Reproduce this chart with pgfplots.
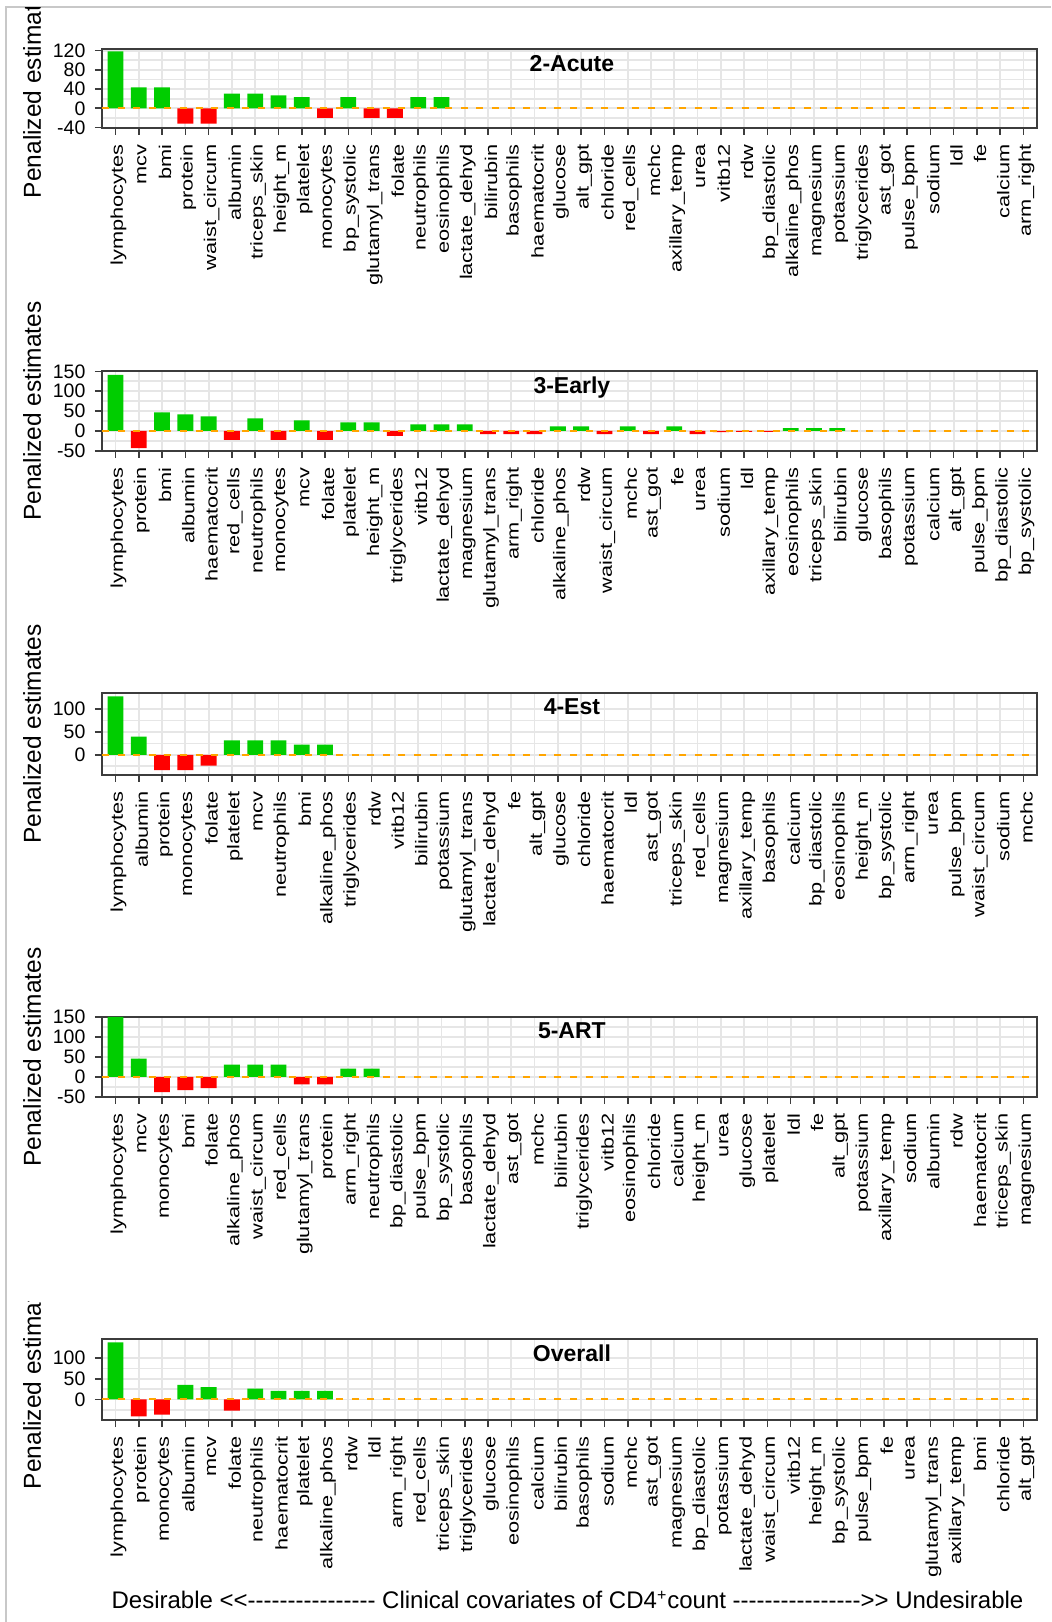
\documentclass[border=0pt]{standalone}
\usepackage{fontspec}
\setmainfont{Liberation Sans}
\newfontfamily\labelfont[FakeStretch=1.28]{Liberation Sans}
\usepackage{pgfplots}
\pgfplotsset{compat=1.18}
\definecolor{bargreen}{HTML}{00CD00}
\definecolor{barred}{HTML}{FF0000}
\definecolor{zeroline}{HTML}{FFA500}
\definecolor{gridgray}{HTML}{E6E6E6}
\definecolor{boxgray}{HTML}{3C3C3C}
\definecolor{framegray}{HTML}{C8C8C8}
\newcommand\dsh{-\kern0pt}
\newcommand\dashes{\dsh\dsh\dsh\dsh\dsh\dsh\dsh\dsh\dsh\dsh\dsh\dsh\dsh\dsh\dsh\dsh}
\pgfplotsset{
  panel/.style={
    scale only axis, width=467.5pt,
    anchor=north west,
    xmin=-0.58, xmax=39.58,
    xtick={0,...,39},
    tick pos=left, tick align=outside,
    major tick length=3.5pt, minor tick length=0pt,
    tick style={boxgray, line width=0.8pt},
    axis line style={boxgray, line width=1pt},
    grid=both,
    major grid style={gridgray, line width=0.9pt},
    minor grid style={gridgray, line width=0.9pt},
    minor y tick num=1,
    xticklabel style={xshift=1.5pt, yshift=-1.2pt, rotate=90, anchor=east, font=\labelfont\fontsize{8.5}{9}\selectfont},
    yticklabel style={xshift=-1.25pt, font=\fontsize{9.75}{10}\selectfont},
    every axis title/.style={at={(0.5,1)}, anchor=north, xshift=1.2pt, yshift=-1.8pt, inner sep=1pt, font=\bfseries\fontsize{11.5}{12}\selectfont},
  },
  gbar/.style={fill=bargreen, draw=none, ybar, bar width=0.68, bar shift=0pt},
  rbar/.style={fill=barred, draw=none, ybar, bar width=0.68, bar shift=0pt},
  zline/.style={zeroline, line width=1pt, dash pattern=on 3.5pt off 4.3pt},
}
\begin{document}
\begin{tikzpicture}
\path[use as bounding box] (0,0) rectangle (525.5pt,811pt);
\fill[white] (0,0) rectangle (525.5pt,811pt);
\draw[framegray, line width=1pt] (3pt,0) -- (3pt,807.5pt) -- (525.5pt,807.5pt);

% ---------- Panel 1: 2-Acute ----------
\begin{axis}[panel, at={(51pt,786.5pt)}, height=39.5pt,
  ymin=-41, ymax=123.5, ytick={-40,0,40,80,120}, yticklabels={-40,0,40,80,120},
  title={2-Acute},
  xticklabels={lymphocytes,mcv,bmi,protein,waist\_circum,albumin,triceps\_skin,height\_m,platelet,monocytes,bp\_systolic,glutamyl\_trans,folate,neutrophils,eosinophils,lactate\_dehyd,bilirubin,basophils,haematocrit,glucose,alt\_gpt,chloride,red\_cells,mchc,axillary\_temp,urea,vitb12,rdw,bp\_diastolic,alkaline\_phos,magnesium,potassium,triglycerides,ast\_got,pulse\_bpm,sodium,ldl,fe,calcium,arm\_right}]
\addplot[gbar] coordinates {(0,118.5) (1,43.5) (2,43.5) (5,30.5) (6,30.5) (7,27) (8,23) (10,23) (13,23) (14,23)};
\addplot[rbar] coordinates {(3,-32) (4,-32) (9,-20) (11,-20) (12,-20)};
\addplot[zline] coordinates {(-0.58,0) (39.58,0)};
\end{axis}
\begin{scope}
\clip (0,0) rectangle (525.5pt,807pt);
\node[rotate=90, font=\fontsize{12.25}{13}\selectfont] at (16pt,766.75pt) {Penalized estimates};
\end{scope}

% ---------- Panel 2: 3-Early ----------
\begin{axis}[panel, at={(51pt,625.5pt)}, height=40pt,
  ymin=-50.5, ymax=151, ytick={-50,0,50,100,150}, yticklabels={-50,0,50,100,150},
  title={3-Early},
  xticklabels={lymphocytes,protein,bmi,albumin,haematocrit,red\_cells,neutrophils,monocytes,mcv,folate,platelet,height\_m,triglycerides,vitb12,lactate\_dehyd,magnesium,glutamyl\_trans,arm\_right,chloride,alkaline\_phos,rdw,waist\_circum,mchc,ast\_got,fe,urea,sodium,ldl,axillary\_temp,eosinophils,triceps\_skin,bilirubin,glucose,basophils,potassium,calcium,alt\_gpt,pulse\_bpm,bp\_diastolic,bp\_systolic}]
\addplot[gbar] coordinates {(0,141.5) (2,46.5) (3,41.5) (4,36.5) (6,31.5) (8,26.5) (10,21.5) (11,21.5) (13,16.5) (14,16.5) (15,16.5) (19,11.5) (20,11.5) (22,11.5) (24,11.5) (29,7) (30,7) (31,7)};
\addplot[rbar] coordinates {(1,-43) (5,-22.5) (7,-22.5) (9,-22.5) (12,-12.5) (16,-8) (17,-8) (18,-8) (21,-8) (23,-8) (25,-8) (26,-3) (27,-2.5) (28,-2.5)};
\addplot[zline] coordinates {(-0.58,0) (39.58,0)};
\end{axis}
\node[rotate=90, font=\fontsize{12.25}{13}\selectfont] at (16pt,605.5pt) {Penalized estimates};

% ---------- Panel 3: 4-Est ----------
\begin{axis}[panel, at={(51pt,464.5pt)}, height=41pt,
  ymin=-43.8, ymax=135, ytick={-50,0,50,100}, yticklabels={-50,0,50,100},
  title={4-Est},
  xticklabels={lymphocytes,albumin,protein,monocytes,folate,platelet,mcv,neutrophils,bmi,alkaline\_phos,triglycerides,rdw,vitb12,bilirubin,potassium,glutamyl\_trans,lactate\_dehyd,fe,alt\_gpt,glucose,chloride,haematocrit,ldl,ast\_got,triceps\_skin,red\_cells,magnesium,axillary\_temp,basophils,calcium,bp\_diastolic,eosinophils,height\_m,bp\_systolic,arm\_right,urea,pulse\_bpm,waist\_circum,sodium,mchc}]
\addplot[gbar] coordinates {(0,127.5) (1,40) (5,31.5) (6,31.5) (7,31.5) (8,22.5) (9,22.5)};
\addplot[rbar] coordinates {(2,-33) (3,-33) (4,-23.5)};
\addplot[zline] coordinates {(-0.58,0) (39.58,0)};
\end{axis}
\node[rotate=90, font=\fontsize{12.25}{13}\selectfont] at (16pt,444pt) {Penalized estimates};

% ---------- Panel 4: 5-ART ----------
\begin{axis}[panel, at={(51pt,302.5pt)}, height=40pt,
  ymin=-50.5, ymax=150.5, ytick={-50,0,50,100,150}, yticklabels={-50,0,50,100,150},
  title={5-ART},
  xticklabels={lymphocytes,mcv,monocytes,bmi,folate,alkaline\_phos,waist\_circum,red\_cells,glutamyl\_trans,protein,arm\_right,neutrophils,bp\_diastolic,pulse\_bpm,bp\_systolic,basophils,lactate\_dehyd,ast\_got,mchc,bilirubin,triglycerides,vitb12,eosinophils,chloride,calcium,height\_m,urea,glucose,platelet,ldl,fe,alt\_gpt,potassium,axillary\_temp,sodium,albumin,rdw,haematocrit,triceps\_skin,magnesium}]
\addplot[gbar] coordinates {(0,151) (1,46) (5,31) (6,31) (7,31) (10,21) (11,21)};
\addplot[rbar] coordinates {(2,-38.5) (3,-33.5) (4,-28.5) (8,-18.5) (9,-18.5)};
\addplot[zline] coordinates {(-0.58,0) (39.58,0)};
\end{axis}
\node[rotate=90, font=\fontsize{12.25}{13}\selectfont] at (16pt,282.5pt) {Penalized estimates};

% ---------- Panel 5: Overall ----------
\begin{axis}[panel, at={(51pt,141.5pt)}, height=40.5pt,
  ymin=-49.5, ymax=146, ytick={-50,0,50,100}, yticklabels={-50,0,50,100},
  title={Overall},
  xticklabels={lymphocytes,protein,monocytes,albumin,mcv,folate,neutrophils,haematocrit,platelet,alkaline\_phos,rdw,ldl,arm\_right,red\_cells,triceps\_skin,triglycerides,glucose,eosinophils,calcium,bilirubin,basophils,sodium,mchc,ast\_got,magnesium,bp\_diastolic,potassium,lactate\_dehyd,waist\_circum,vitb12,height\_m,bp\_systolic,pulse\_bpm,fe,urea,glutamyl\_trans,axillary\_temp,bmi,chloride,alt\_gpt}]
\addplot[gbar] coordinates {(0,138) (3,35) (4,30) (6,26) (7,21) (8,21) (9,21)};
\addplot[rbar] coordinates {(1,-40.5) (2,-36.5) (5,-27)};
\addplot[zline] coordinates {(-0.58,0) (39.58,0)};
\end{axis}
\begin{scope}
\clip (0,0) rectangle (525.5pt,160pt);
\node[rotate=90, font=\fontsize{12.25}{13}\selectfont] at (16pt,121.25pt) {Penalized estimates};
\end{scope}

\node[font=\fontsize{12}{13}\selectfont] at (283.75pt,11pt) {Desirable <\kern0pt<\dashes{} Clinical covariates of CD4\textsuperscript{+}count \dashes>\kern0pt> Undesirable};
\end{tikzpicture}
\end{document}
